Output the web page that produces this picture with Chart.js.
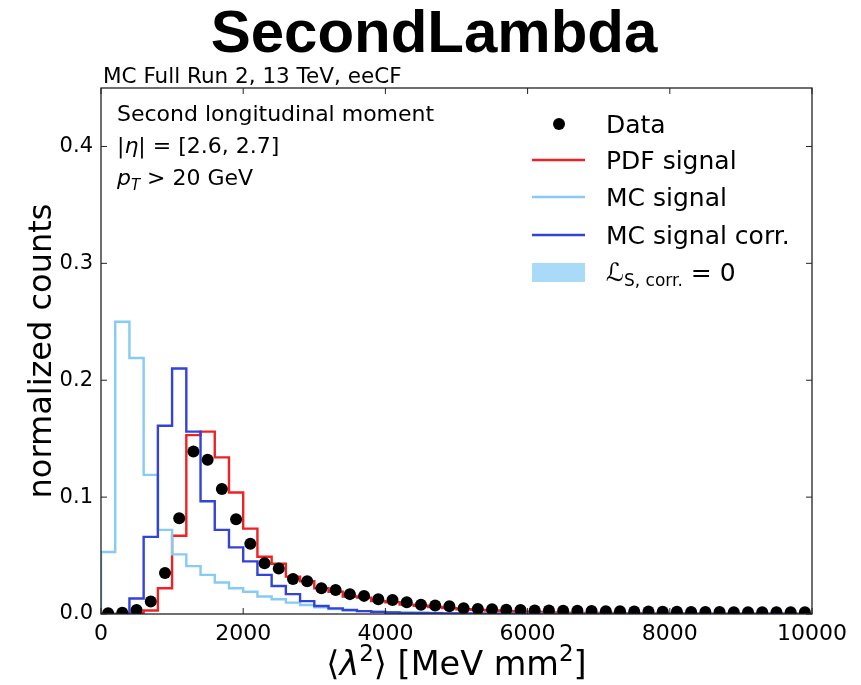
<!DOCTYPE html>
<html>
<head>
<meta charset="utf-8">
<script src="https://cdn.jsdelivr.net/npm/chart.js@4.4.1/dist/chart.umd.min.js"></script>
<style>
  html, body { margin: 0; padding: 0; background: #fff; overflow: hidden; }
  canvas { display: block; }
</style>
</head>
<body>
<canvas id="hist" width="861" height="685"></canvas>
<script>
// binning of <lambda^2>, 200 MeV mm^2 per bin
const binLo = 0, binHi = 10000, nBins = 50;
const xTicks = [0, 2000, 4000, 6000, 8000, 10000];
const yTicks = [0.0, 0.1, 0.2, 0.3, 0.4];

const dataCounts = [0.0006, 0.001, 0.0034, 0.0106, 0.035, 0.082, 0.139, 0.132, 0.107, 0.081,
  0.060, 0.0435, 0.039, 0.030, 0.028, 0.022, 0.0205, 0.017, 0.0155, 0.0126,
  0.012, 0.010, 0.008, 0.0072, 0.0066, 0.005, 0.0043, 0.0040, 0.0036, 0.0034,
  0.0031, 0.0030, 0.0028, 0.0027, 0.0025, 0.0024, 0.0023, 0.0022, 0.0021, 0.0020,
  0.0019, 0.0018, 0.0018, 0.0017, 0.0016, 0.0016, 0.0015, 0.0015, 0.0014, 0.0014];
const pdfSignal = [0, 0, 0.001, 0.003, 0.022, 0.067, 0.153, 0.156, 0.134, 0.104,
  0.073, 0.049, 0.043, 0.032, 0.028, 0.022, 0.019, 0.015, 0.014, 0.011,
  0.010, 0.008, 0.007, 0.006, 0.005, 0.004, 0.0035, 0.003, 0.0025, 0.002,
  0.0017, 0.0014, 0.0012, 0.001, 0.0009, 0.0008, 0.0007, 0.0006, 0.0005, 0.0005,
  0.0004, 0.0004, 0.0003, 0.0003, 0.0003, 0.0002, 0.0002, 0.0002, 0.0002, 0.0001];
const mcSignal = [0.053, 0.250, 0.219, 0.119, 0.072, 0.051, 0.041, 0.0335, 0.027, 0.022,
  0.019, 0.015, 0.0126, 0.0097, 0.0077, 0.0057, 0.0042, 0.0032, 0.0025, 0.0019,
  0.0015, 0.0012, 0.001, 0.0008, 0.0006, 0.0005, 0.0004, 0.0003, 0.0003, 0.0002,
  0.0002, 0.0001, 0.0001, 0.0001, 0.0001, 0.0001, 0.0001, 0.0001, 0.0001, 0.0001,
  0, 0, 0, 0, 0, 0, 0, 0, 0, 0];
const mcSignalCorr = [0, 0, 0.0132, 0.066, 0.161, 0.210, 0.156, 0.0964, 0.072, 0.057,
  0.045, 0.0335, 0.024, 0.017, 0.011, 0.0068, 0.0048, 0.0034, 0.0025, 0.0018,
  0.0013, 0.001, 0.0008, 0.0006, 0.0005, 0.0004, 0.0003, 0.0003, 0.0002, 0.0002,
  0.0001, 0.0001, 0.0001, 0.0001, 0.0001, 0.0001, 0.0001, 0.0001, 0.0001, 0.0001,
  0, 0, 0, 0, 0, 0, 0, 0, 0, 0];

const RED = '#ee2222', LIGHT = '#86cbf4', BLUE = '#3343d8', PATCH = '#a9daf7';
const FONT = '"DejaVu Sans", sans-serif';

const binW = (binHi - binLo) / nBins;

// step outline of a histogram, closed down to zero at both ends
function histPoints(vals) {
  const pts = [{x: binLo, y: 0}];
  vals.forEach((v, i) => {
    pts.push({x: binLo + i * binW, y: v}, {x: binLo + (i + 1) * binW, y: v});
  });
  pts.push({x: binHi, y: 0});
  return pts;
}
const dataPoints = dataCounts.map((v, i) => ({x: binLo + (i + 0.5) * binW, y: v}));

const stepLine = (label, vals, color) => ({
  type: 'line', label, data: histPoints(vals), borderColor: color, borderWidth: 2.4,
  pointRadius: 0, fill: false, tension: 0
});

// draws a row of text pieces (font, vertical shift) left to right
function drawRuns(ctx, x, y, runs) {
  runs.forEach(r => {
    ctx.font = r.font;
    ctx.fillText(r.t, x, y + (r.dy || 0));
    x += ctx.measureText(r.t).width;
  });
  return x;
}
function runsWidth(ctx, runs) {
  let w = 0;
  runs.forEach(r => { ctx.font = r.font; w += ctx.measureText(r.t).width; });
  return w;
}

const decorations = {
  id: 'decorations',
  afterDraw(chart) {
    const {ctx, chartArea: a, scales: {x, y}} = chart;
    ctx.save();

    // axes frame with inward ticks on every side
    ctx.strokeStyle = '#222';
    ctx.lineWidth = 1.3;
    ctx.strokeRect(a.left, a.top, a.right - a.left, a.bottom - a.top);
    ctx.lineWidth = 1;
    ctx.beginPath();
    xTicks.forEach(v => {
      const px = x.getPixelForValue(v);
      ctx.moveTo(px, a.bottom); ctx.lineTo(px, a.bottom - 6);
      ctx.moveTo(px, a.top); ctx.lineTo(px, a.top + 6);
    });
    yTicks.forEach(v => {
      const py = y.getPixelForValue(v);
      ctx.moveTo(a.left, py); ctx.lineTo(a.left + 6, py);
      ctx.moveTo(a.right, py); ctx.lineTo(a.right - 6, py);
    });
    ctx.stroke();

    ctx.fillStyle = '#000';
    ctx.textBaseline = 'alphabetic';

    // title and run label
    ctx.textAlign = 'center';
    ctx.font = 'bold 60px "Liberation Sans", sans-serif';
    ctx.fillText('SecondLambda', 434, 52);
    ctx.textAlign = 'left';
    ctx.font = '21.5px ' + FONT;
    ctx.fillText('MC Full Run 2, 13 TeV, eeCF', 103, 83);

    // selection text
    const f = '22px ' + FONT, fi = 'italic 22px ' + FONT, fs = 'italic 15px ' + FONT;
    ctx.font = f;
    ctx.fillText('Second longitudinal moment', 117, 121);
    drawRuns(ctx, 117, 153, [{t: '|', font: f}, {t: 'η', font: fi}, {t: '| = [2.6, 2.7]', font: f}]);
    drawRuns(ctx, 117, 185, [{t: 'p', font: fi}, {t: 'T', font: fs, dy: 5}, {t: ' > 20 GeV', font: f}]);

    // legend
    const lf = '25px ' + FONT;
    const rows = [
      {yc: 124, kind: 'dot', label: 'Data'},
      {yc: 160, color: RED, label: 'PDF signal'},
      {yc: 197, color: LIGHT, label: 'MC signal'},
      {yc: 235, color: BLUE, label: 'MC signal corr.'}
    ];
    rows.forEach(r => {
      if (r.kind === 'dot') {
        ctx.beginPath(); ctx.arc(559, r.yc, 6, 0, Math.PI * 2); ctx.fill();
      } else {
        ctx.strokeStyle = r.color; ctx.lineWidth = 2.4;
        ctx.beginPath(); ctx.moveTo(532, r.yc); ctx.lineTo(585, r.yc); ctx.stroke();
      }
      ctx.font = lf;
      ctx.fillText(r.label, 606, r.yc + 9);
    });
    ctx.fillStyle = PATCH;
    ctx.fillRect(532, 263, 53, 19);
    ctx.fillStyle = '#000';
    drawRuns(ctx, 606, 281, [
      {t: 'ℒ', font: 'italic 25px ' + FONT},
      {t: 'S, corr.', font: '17px ' + FONT, dy: 5},
      {t: ' = 0', font: lf}
    ]);

    // axis titles
    const af = '33.5px ' + FONT, afi = 'italic 33.5px ' + FONT, asup = '23px ' + FONT;
    const xl = [
      {t: '⟨', font: af}, {t: 'λ', font: afi}, {t: '2', font: asup, dy: -14}, {t: '⟩ [MeV mm', font: af},
      {t: '2', font: asup, dy: -14}, {t: ']', font: af}
    ];
    const w = runsWidth(ctx, xl);
    drawRuns(ctx, (a.left + a.right) / 2 - w / 2, 675, xl);

    ctx.translate(51, (a.top + a.bottom) / 2);
    ctx.rotate(-Math.PI / 2);
    ctx.textAlign = 'center';
    ctx.font = '32px ' + FONT;
    ctx.fillText('normalized counts', 0, 0);
    ctx.restore();
  }
};

new Chart(document.getElementById('hist'), {
  data: {
    datasets: [
      {type: 'scatter', label: 'Data', data: dataPoints, pointRadius: 6, pointHoverRadius: 6,
       pointBackgroundColor: '#000', pointBorderWidth: 0, showLine: false},
      stepLine('MC signal corr.', mcSignalCorr, BLUE),
      stepLine('MC signal', mcSignal, LIGHT),
      stepLine('PDF signal', pdfSignal, RED)
    ]
  },
  options: {
    responsive: false,
    devicePixelRatio: 1,
    animation: false,
    layout: {padding: {top: 88, right: 49, left: 0, bottom: 0}},
    plugins: {legend: {display: false}, tooltip: {enabled: false}},
    scales: {
      x: {
        type: 'linear', min: binLo, max: binHi,
        afterBuildTicks: s => { s.ticks = xTicks.map(value => ({value})); },
        afterFit: s => { s.height = 71; },
        grid: {display: false, drawTicks: false}, border: {display: false},
        ticks: {color: '#000', font: {family: FONT, size: 22}, padding: 7, maxRotation: 0, autoSkip: false,
                callback: v => String(v)}
      },
      y: {
        type: 'linear', min: 0, max: 0.45,
        afterBuildTicks: s => { s.ticks = yTicks.map(value => ({value})); },
        afterFit: s => { s.width = 101; },
        grid: {display: false, drawTicks: false}, border: {display: false},
        ticks: {color: '#000', font: {family: FONT, size: 21}, padding: 8, callback: v => v.toFixed(1)}
      }
    }
  },
  plugins: [decorations]
});
</script>
</body>
</html>
